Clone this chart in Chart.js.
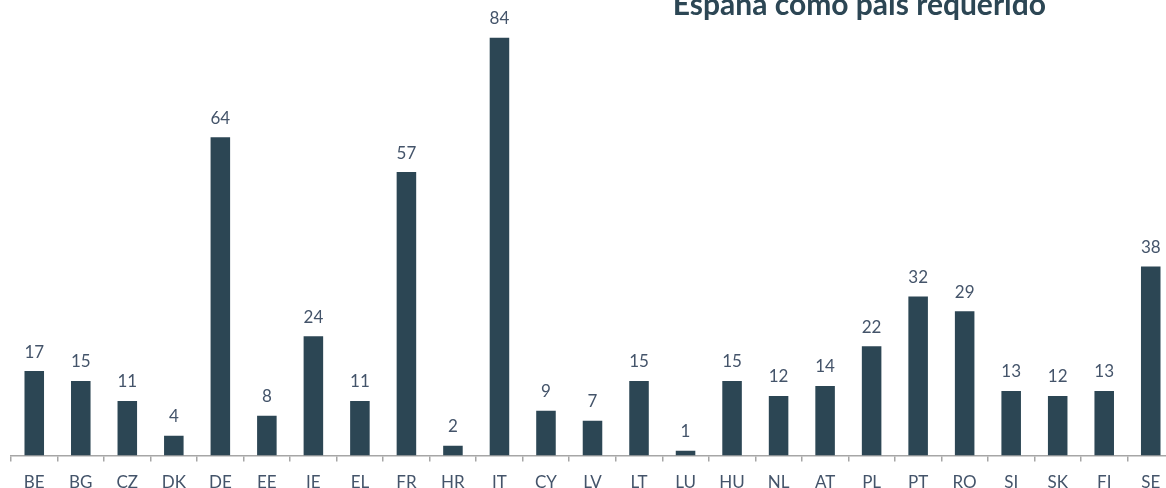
<!DOCTYPE html>
<html>
<head>
<meta charset="utf-8">
<script src="https://cdn.jsdelivr.net/npm/chart.js@4.4.1/dist/chart.umd.min.js"></script>
<style>
  html, body { margin: 0; padding: 0; overflow: hidden; background: #fff; }
  #wrap { position: relative; width: 1174px; height: 504px; }
</style>
</head>
<body>
<div id="wrap"><canvas id="barChart"></canvas></div>
<script>
const countries = ['BE', 'BG', 'CZ', 'DK', 'DE', 'EE', 'IE', 'EL', 'FR', 'HR', 'IT', 'CY', 'LV',
  'LT', 'LU', 'HU', 'NL', 'AT', 'PL', 'PT', 'RO', 'SI', 'SK', 'FI', 'SE'];
const requests = [17, 15, 11, 4, 64, 8, 24, 11, 57, 2, 84, 9, 7, 15, 1, 15, 12, 14, 22, 32, 29, 13, 12, 13, 38];
const chartTitle = 'España como país requerido';

const colors = {
  bar: '#2c4654',
  text: '#44546a',
  axis: '#a6a6a6'
};

// value labels above each bar
const valueLabels = {
  id: 'valueLabels',
  afterDatasetsDraw(chart) {
    const ctx = chart.ctx;
    const meta = chart.getDatasetMeta(0);
    ctx.save();
    ctx.font = '17px Lato';
    ctx.fillStyle = colors.text;
    ctx.textAlign = 'center';
    ctx.textBaseline = 'middle';
    meta.data.forEach((bar, i) => {
      ctx.fillText(String(requests[i]), bar.x, bar.y - 19);
    });
    ctx.restore();
  }
};

// title sits partly above the top edge, like the original
const topTitle = {
  id: 'topTitle',
  afterDraw(chart) {
    const ctx = chart.ctx;
    ctx.save();
    ctx.font = 'bold 30px Lato';
    ctx.fillStyle = colors.bar;
    ctx.textAlign = 'center';
    ctx.textBaseline = 'alphabetic';
    ctx.fillText(chartTitle, chart.width * 0.732, 15);
    ctx.restore();
  }
};

const ctx = document.getElementById('barChart').getContext('2d');

new Chart(ctx, {
  type: 'bar',
  data: {
    labels: countries,
    datasets: [{
      data: requests,
      backgroundColor: colors.bar,
      categoryPercentage: 1,
      barPercentage: 0.42
    }]
  },
  options: {
    responsive: true,
    maintainAspectRatio: false,
    animation: false,
    layout: { padding: { left: 11, right: 0, top: 0, bottom: 0 } },
    plugins: {
      legend: { display: false },
      tooltip: { enabled: false }
    },
    scales: {
      x: {
        offset: true,
        border: { display: true, color: colors.axis, width: 1.5 },
        grid: {
          offset: true,
          drawOnChartArea: false,
          drawTicks: true,
          tickLength: 6,
          color: colors.axis,
          lineWidth: 1.5
        },
        ticks: {
          color: colors.text,
          font: { family: 'Lato', size: 17 },
          padding: 11,
          maxRotation: 0,
          autoSkip: false
        }
      },
      y: {
        display: false,
        min: 0,
        max: 91.6
      }
    }
  },
  plugins: [valueLabels, topTitle]
});
</script>
</body>
</html>
